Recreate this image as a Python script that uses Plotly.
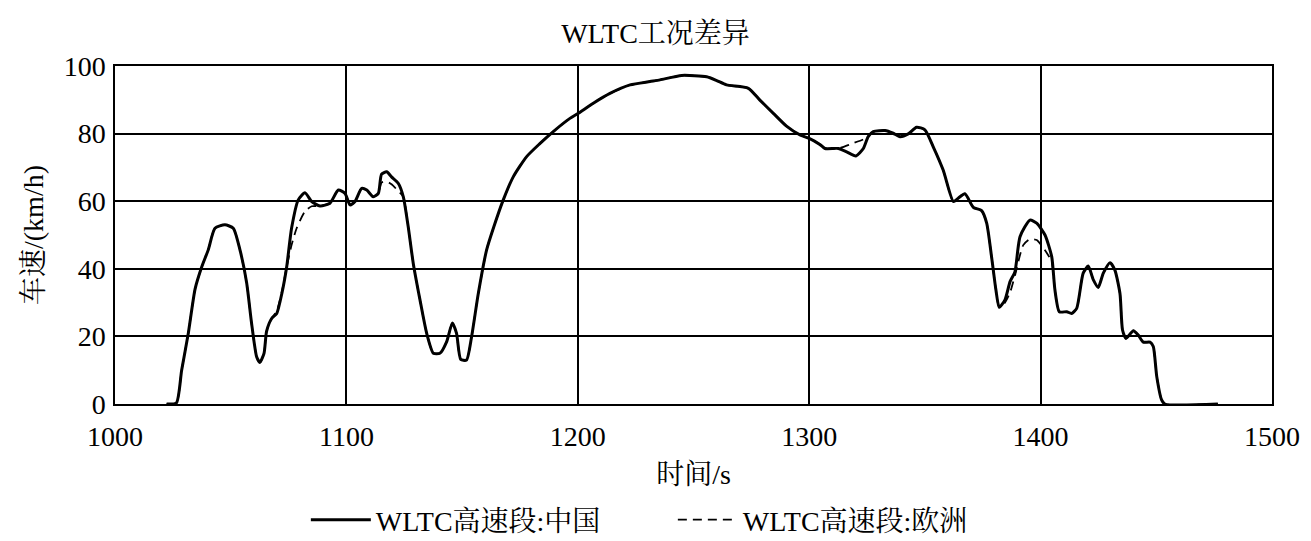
import plotly.graph_objects as go

# China WLTC high-speed phase
t_cn = [1022.3, 1026.5, 1028.8, 1031.7, 1034.6, 1037.5, 1040.3, 1043.2, 1047.5, 1051.1,
        1054.0, 1056.9, 1059.0, 1061.2, 1062.6, 1064.4, 1065.5, 1067.7, 1069.9, 1072.2,
        1074.2, 1076.3, 1079.2, 1082.1, 1085.0, 1088.6, 1092.9, 1096.5, 1099.4, 1101.6,
        1103.7, 1106.6, 1108.8, 1111.6, 1113.8, 1115.2, 1117.4, 1119.5, 1122.4, 1124.6,
        1126.7, 1128.9, 1131.8, 1134.7, 1137.6, 1140.4, 1143.3, 1145.8, 1147.6, 1149.4,
        1151.9, 1154.1, 1157.0, 1160.6, 1163.5, 1167.8, 1172.1, 1177.9, 1183.7, 1189.4,
        1196.6, 1200.2, 1206.7, 1213.9, 1222.6, 1231.2, 1235.5, 1244.9, 1255.7, 1260.0,
        1264.3, 1273.7, 1278.7, 1284.5, 1290.2, 1296.0, 1300.0, 1304.6, 1306.8, 1312.6,
        1316.2, 1320.2, 1323.4, 1325.5, 1327.7, 1332.8, 1336.3, 1339.2, 1342.8, 1346.4,
        1350.0, 1353.6, 1357.9, 1362.3, 1364.4, 1367.3, 1370.9, 1374.5, 1376.7, 1378.8,
        1380.7, 1382.1, 1384.6, 1386.8, 1388.9, 1391.1, 1395.4, 1398.3, 1401.9, 1404.8,
        1406.2, 1408.1, 1411.3, 1413.4, 1415.6, 1418.4, 1420.6, 1422.8, 1424.9, 1427.1,
        1430.0, 1432.1, 1434.3, 1435.4, 1436.9, 1440.1, 1442.2, 1444.4, 1447.3, 1448.7,
        1450.2, 1452.3, 1453.7, 1476.6]
v_cn = [0.0, 0.3, 10.0, 21.0, 34.0, 40.6, 45.6, 52.0, 53.0, 52.0,
        45.6, 35.8, 24.0, 14.0, 12.3, 15.0, 21.5, 25.3, 26.8, 33.0,
        40.6, 52.0, 60.4, 62.5, 59.9, 58.6, 59.4, 63.3, 62.3, 58.9,
        59.9, 63.8, 63.3, 61.3, 62.3, 68.0, 68.7, 67.2, 65.3, 61.3,
        52.5, 41.6, 30.8, 20.9, 15.0, 15.0, 18.4, 24.0, 20.9, 13.2,
        13.0, 19.9, 32.7, 45.6, 52.0, 60.4, 67.2, 73.2, 77.1, 80.6,
        84.5, 86.0, 89.0, 91.9, 94.4, 95.4, 95.9, 97.2, 96.8, 95.7,
        94.4, 93.4, 89.9, 86.0, 82.2, 79.6, 78.6, 76.8, 75.6, 75.6,
        74.6, 73.4, 75.6, 79.1, 80.6, 80.9, 80.1, 79.1, 79.9, 81.9,
        81.1, 76.1, 69.2, 59.9, 60.9, 62.2, 58.2, 57.2, 53.5, 43.6,
        33.7, 28.6, 30.8, 36.2, 39.1, 49.5, 54.4, 53.5, 50.0, 43.6,
        33.7, 27.3, 27.3, 26.8, 28.3, 38.7, 40.8, 36.7, 34.5, 38.7,
        41.8, 39.6, 32.7, 21.9, 19.4, 21.7, 20.4, 18.3, 18.3, 17.0,
        8.1, 1.2, 0.0, 0.0]

# Europe WLTC high-speed phase
t_eu = [1022.3, 1026.5, 1028.8, 1031.7, 1034.6, 1037.5, 1040.3, 1043.2, 1047.5, 1051.1,
        1054.0, 1056.9, 1059.0, 1061.2, 1062.6, 1064.4, 1065.5, 1067.7, 1069.9, 1072.2,
        1074.2, 1076.3, 1078.5, 1082.1, 1085.0, 1088.6, 1092.9, 1096.5, 1099.4, 1101.6,
        1103.7, 1106.6, 1108.8, 1111.6, 1113.8, 1115.2, 1117.4, 1119.5, 1122.4, 1124.6,
        1126.7, 1128.9, 1131.8, 1134.7, 1137.6, 1140.4, 1143.3, 1145.8, 1147.6, 1149.4,
        1151.9, 1154.1, 1157.0, 1160.6, 1163.5, 1167.8, 1172.1, 1177.9, 1183.7, 1189.4,
        1196.6, 1200.2, 1206.7, 1213.9, 1222.6, 1231.2, 1235.5, 1244.9, 1255.7, 1260.0,
        1264.3, 1273.7, 1278.7, 1284.5, 1290.2, 1296.0, 1300.0, 1304.6, 1306.8, 1312.6,
        1318.3, 1323.4, 1325.5, 1327.7, 1332.8, 1336.3, 1339.2, 1342.8, 1346.4,
        1350.0, 1353.6, 1357.9, 1362.3, 1364.4, 1367.3, 1370.9, 1374.5, 1376.7, 1378.8,
        1380.7, 1382.1, 1384.6, 1386.8, 1388.9, 1392.5, 1395.4, 1398.3, 1401.9, 1404.8,
        1406.2, 1408.1, 1411.3, 1413.4, 1415.6, 1418.4, 1420.6, 1422.8, 1424.9, 1427.1,
        1430.0, 1432.1, 1434.3, 1435.4, 1436.9, 1440.1, 1442.2, 1444.4, 1447.3, 1448.7,
        1450.2, 1452.3, 1453.7, 1476.6]
v_eu = [0.0, 0.3, 10.0, 21.0, 34.0, 40.6, 45.6, 52.0, 53.0, 52.0,
        45.6, 35.8, 24.0, 14.0, 12.3, 15.0, 21.5, 25.3, 27.5, 33.5,
        40.6, 47.0, 52.0, 57.0, 58.5, 58.6, 59.4, 63.3, 62.3, 58.9,
        59.9, 63.8, 63.3, 61.3, 62.3, 65.5, 65.8, 65.0, 63.0, 61.3,
        52.5, 41.6, 30.8, 20.9, 15.0, 15.0, 18.4, 24.0, 20.9, 13.2,
        13.0, 19.9, 32.7, 45.6, 52.0, 60.4, 67.2, 73.2, 77.1, 80.6,
        84.5, 86.0, 89.0, 91.9, 94.4, 95.4, 95.9, 97.2, 96.8, 95.7,
        94.4, 93.4, 89.9, 86.0, 82.2, 79.6, 78.6, 76.8, 75.6, 75.6,
        77.0, 78.3, 79.3, 80.6, 80.9, 80.1, 79.1, 79.9, 81.9,
        81.1, 76.1, 69.2, 59.9, 60.9, 62.2, 58.2, 57.2, 53.5, 43.6,
        33.7, 28.6, 30.0, 33.0, 38.0, 47.0, 48.8, 48.5, 45.5, 42.0,
        33.7, 27.3, 27.3, 26.8, 28.3, 38.7, 40.8, 36.7, 34.5, 38.7,
        41.8, 39.6, 32.7, 21.9, 19.4, 21.7, 20.4, 18.3, 18.3, 17.0,
        8.1, 1.2, 0.0, 0.0]

x_ticks = [1000, 1100, 1200, 1300, 1400, 1500]
y_ticks = [0, 20, 40, 60, 80, 100]

FONT = "Liberation Serif, Times New Roman, Noto Serif CJK SC, Noto Sans CJK SC, serif"
FS = 28

fig = go.Figure()
fig.add_trace(go.Scatter(
    x=t_eu, y=v_eu, mode="lines", name="WLTC高速段:欧洲",
    line=dict(color="black", width=1.8, dash="9px,6px", shape="spline", smoothing=0.6),
    legendrank=2,
))
fig.add_trace(go.Scatter(
    x=t_cn, y=v_cn, mode="lines", name="WLTC高速段:中国",
    line=dict(color="black", width=3, shape="spline", smoothing=0.6),
    legendrank=1,
))

fig.update_layout(
    width=1295, height=533,
    paper_bgcolor="white", plot_bgcolor="white",
    margin=dict(l=107, r=31, t=58, b=137),
    font=dict(family=FONT, size=FS, color="black"),
    title=dict(text="WLTC工况差异", x=0.5, xanchor="center", y=1 - 25 / 533, yanchor="middle",
               font=dict(family=FONT, size=FS, color="black")),
    showlegend=True,
    legend=dict(orientation="h", xref="container", yref="container",
                x=0.230, xanchor="left", y=21 / 533, yanchor="middle",
                font=dict(family=FONT, size=FS, color="black"),
                bgcolor="rgba(0,0,0,0)", itemwidth=60, entrywidth=292, entrywidthmode="pixels"),
)
fig.update_xaxes(
    range=[1000, 1500], tickvals=x_ticks, ticktext=[str(v) for v in x_ticks],
    showgrid=True, gridcolor="black", gridwidth=1.5,
    showline=True, linecolor="black", linewidth=1.5, mirror=True,
    ticks="", zeroline=False, automargin=False, ticklabelstandoff=7,
    tickfont=dict(family=FONT, size=FS, color="black"),
    title=dict(text="时间/s", font=dict(family=FONT, size=FS, color="black"), standoff=13),
)
fig.update_yaxes(
    range=[0, 100], tickvals=y_ticks, ticktext=[str(v) for v in y_ticks],
    showgrid=True, gridcolor="black", gridwidth=1.5,
    showline=True, linecolor="black", linewidth=1.5, mirror=True,
    ticks="", zeroline=False, automargin=False, ticklabelstandoff=2,
    tickfont=dict(family=FONT, size=FS, color="black"),
    title=dict(text="车速/(km/h)", font=dict(family=FONT, size=FS, color="black"), standoff=12),
)

fig.write_html("out.html")
